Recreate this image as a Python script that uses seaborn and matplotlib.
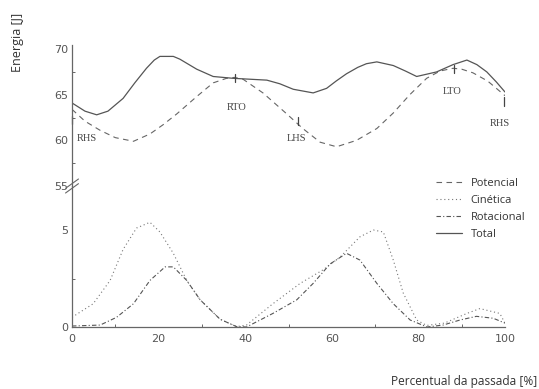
import numpy as np
import pandas as pd
import matplotlib
matplotlib.use("Agg")
import matplotlib.pyplot as plt
import seaborn as sns
from matplotlib.ticker import MultipleLocator
from matplotlib.lines import Line2D

sns.set_theme(style="white")
plt.rcParams['font.family'] = ['DejaVu Sans']

# ---- data ----
tot_x = [0, 3, 5.7, 8.3, 11.8, 14.5, 17.2, 19, 20.3, 23.4, 24.9, 28.8, 32.6, 37.2, 45, 48, 51.1, 55.7,
         58.8, 61, 63.4, 66, 68, 70.4, 74.2, 77, 79.6, 84.2, 88, 91.2, 93.5, 95.8, 98, 100]
tot_y = [64.1, 63.2, 62.8, 63.2, 64.6, 66.3, 67.9, 68.8, 69.2, 69.2, 68.9, 67.8, 67.0, 66.8, 66.6, 66.2,
         65.6, 65.2, 65.7, 66.5, 67.3, 68.0, 68.4, 68.6, 68.2, 67.6, 67.0, 67.5, 68.3, 68.8, 68.3, 67.5,
         66.4, 65.3]

pot_x = [0, 3, 6.5, 10, 14.2, 18, 21, 24.2, 28.8, 32.6, 35.7, 37.5, 39.5, 44.1, 49.6, 53.3, 57.3, 61.1,
         65.7, 70.4, 74.2, 78, 81.9, 85, 88, 90, 92.6, 96, 100]
pot_y = [63.4, 62.1, 61.1, 60.3, 59.9, 60.7, 61.7, 62.9, 64.8, 66.3, 66.8, 66.9, 66.7, 65.2, 62.9, 61.3,
         59.8, 59.3, 60.0, 61.3, 63.0, 65.0, 66.8, 67.6, 67.9, 67.8, 67.4, 66.5, 64.9]

kin_x = [0, 4.9, 8.8, 11.8, 14.9, 18, 20.3, 23.4, 26.5, 29.6, 34.2, 38, 40.3, 46.4, 52.7, 58, 61.9,
         66.5, 69.6, 71.9, 74.2, 76.5, 79.6, 81.9, 86, 91.2, 94.2, 98.8, 100]
kin_y = [0.5, 1.2, 2.4, 4.0, 5.1, 5.4, 4.9, 3.8, 2.4, 1.4, 0.4, 0.02, 0.1, 1.2, 2.25, 2.95, 3.6,
         4.65, 5.0, 4.9, 3.45, 1.75, 0.36, 0.08, 0.2, 0.7, 0.95, 0.7, 0.2]

rot_x = [0, 6.5, 10.3, 14.2, 18, 21.5, 23.4, 26.5, 29.6, 34.2, 38, 40.3, 46.4, 51.9, 55.7, 59.6, 63.4,
         66.5, 70.4, 74.2, 78.1, 82, 85.7, 89.6, 93.4, 97.3, 100]
rot_y = [0.05, 0.1, 0.5, 1.2, 2.4, 3.1, 3.1, 2.4, 1.4, 0.4, 0.02, 0.0, 0.7, 1.4, 2.25, 3.25, 3.8,
         3.45, 2.25, 1.2, 0.36, 0.0, 0.1, 0.36, 0.55, 0.45, 0.2]

events = ["RHS", "RTO", "LHS", "LTO", "RHS"]
event_x = [0, 37.6, 52.3, 88.3, 99.8]
event_y = [62.2, 66.85, 62.1, 67.8, 64.25]
label_x = [3.5, 38, 51.9, 87.8, 98.8]
label_y = [60.2, 63.6, 60.2, 65.4, 61.9]

W, H = 539, 389
fig = plt.figure(figsize=(W / 100, H / 100), dpi=100)
left, right = 72 / W, 505 / W
y0 = 1 - 327 / H
ybr = 1 - 186 / H
ytop = 1 - 45 / H
ax_lo = fig.add_axes([left, y0, right - left, ybr - y0])
ax_hi = fig.add_axes([left, ybr, right - left, ytop - ybr])

lc = "#555555"
df_tot = pd.DataFrame({"x": tot_x, "y": tot_y})
df_pot = pd.DataFrame({"x": pot_x, "y": pot_y})
df_kin = pd.DataFrame({"x": kin_x, "y": kin_y})
df_rot = pd.DataFrame({"x": rot_x, "y": rot_y})

sns.lineplot(data=df_pot, x="x", y="y", ax=ax_hi, color="#666666", lw=0.8, linestyle=(0, (5, 4)))
sns.lineplot(data=df_tot, x="x", y="y", ax=ax_hi, color=lc, lw=0.9)
sns.lineplot(data=df_kin, x="x", y="y", ax=ax_lo, color="#777777", lw=0.8, linestyle=(0, (1, 2.5)))
sns.lineplot(data=df_rot, x="x", y="y", ax=ax_lo, color="#555555", lw=0.8, linestyle=(0, (4, 2, 1, 2)))

for ex, ey, lx, ly, t in zip(event_x, event_y, label_x, label_y, events):
    ax_hi.plot([ex, ex], [ey - 0.45, ey + 0.45], color="#444444", lw=0.9, clip_on=False)
    ax_hi.text(lx, ly, t, ha="center", va="center", fontsize=7.5, color="#444444",
               family="Liberation Serif")

# axes styling
for ax in (ax_lo, ax_hi):
    ax.set_xlim(0, 100)
    ax.set_xlabel("")
    ax.set_ylabel("")
    ax.set_facecolor("none")
    for s in ("top", "right"):
        ax.spines[s].set_visible(False)
    ax.spines["left"].set_color("#666666")
    ax.spines["left"].set_linewidth(0.9)
    ax.tick_params(direction="in", colors="#666666", labelcolor="#555555", labelsize=8,
                   length=4, width=0.8, which="major", pad=3)
    ax.tick_params(direction="in", colors="#666666", length=2.5, width=0.7, which="minor")

ax_hi.spines["bottom"].set_visible(False)
ax_hi.set_ylim(55, 70.45)
ax_hi.set_yticks([55, 60, 65, 70])
ax_hi.yaxis.set_minor_locator(MultipleLocator(2.5))
ax_hi.set_xticks([])
ax_hi.tick_params(axis="x", which="both", bottom=False, labelbottom=False)

ax_lo.spines["bottom"].set_color("#666666")
ax_lo.spines["bottom"].set_linewidth(0.9)
ax_lo.set_ylim(0, 7.27)
ax_lo.set_yticks([0, 5])
ax_lo.yaxis.set_minor_locator(MultipleLocator(2.5))
ax_lo.set_xticks([0, 20, 40, 60, 80, 100])
ax_lo.xaxis.set_minor_locator(MultipleLocator(10))
ax_lo.tick_params(axis="y", which="minor", left=True)
ax_hi.tick_params(axis="y", which="minor", left=True)
ax_lo.tick_params(axis="x", which="minor", bottom=True)
ax_lo.tick_params(axis="x", which="major", pad=5, length=5)

# break marks
for dy in (-0.006, 0.006):
    fig.lines.append(Line2D([left - 0.012, left + 0.012], [ybr - 0.012 + dy, ybr + 0.012 + dy],
                            transform=fig.transFigure, color="#666666", lw=0.8))

# legend
handles = [Line2D([], [], color="#666666", lw=0.8, linestyle=(0, (5, 4))),
           Line2D([], [], color="#777777", lw=0.8, linestyle=(0, (1, 2.5))),
           Line2D([], [], color="#555555", lw=0.8, linestyle=(0, (4, 2, 1, 2))),
           Line2D([], [], color=lc, lw=0.9)]
fig.legend(handles, ["Potencial", "Cinética", "Rotacional", "Total"], loc="upper left",
           bbox_to_anchor=(426 / W, 1 - 168 / H), frameon=False,
           handlelength=2.3, handletextpad=0.8, labelspacing=0.55,
           prop={"family": "Open Sans", "size": 8}, labelcolor="#333333")

fig.text(17 / W, 1 - 42 / H, "Energia [J]", rotation=90, ha="center", va="center",
         fontsize=9, color="#333333", family="Open Sans")
fig.text(537 / W, 1 - 381 / H, "Percentual da passada [%]", ha="right", va="center",
         fontsize=8.6, color="#333333", family="Open Sans")

fig.savefig("out.png", dpi=100)
